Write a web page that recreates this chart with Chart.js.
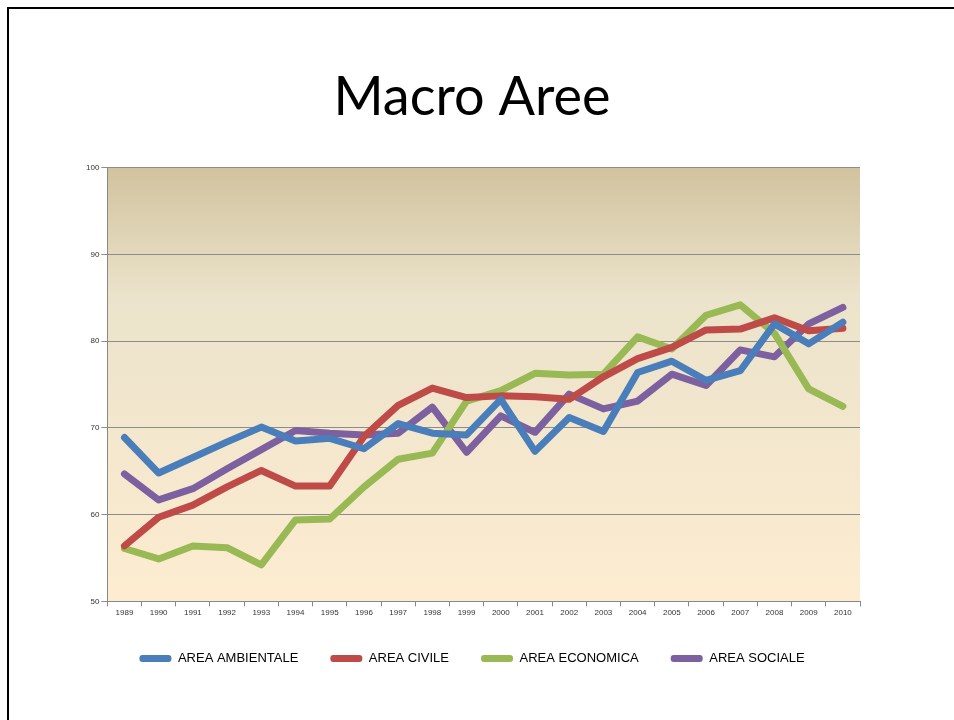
<!DOCTYPE html>
<html>
<head>
<meta charset="utf-8">
<script src="https://cdn.jsdelivr.net/npm/chart.js@4"></script>
<style>
    html, body { margin: 0; padding: 0; background: #fff; }
    #wrap { position: relative; width: 954px; height: 720px; }
    #frame { position: absolute; left: 7px; top: 7px; width: 960px; height: 720px;
             border-top: 2px solid #000; border-left: 2px solid #000; }
    canvas { position: absolute; left: 0; top: 0; }
</style>
</head>
<body>
<div id="wrap">
    <div id="frame"></div>
    <canvas id="chart" width="954" height="720"></canvas>
</div>
<script>
// Dati
const anni = ['1989', '1990', '1991', '1992', '1993', '1994', '1995', '1996', '1997', '1998', '1999',
              '2000', '2001', '2002', '2003', '2004', '2005', '2006', '2007', '2008', '2009', '2010'];
const ambientale = [68.9, 64.8, 66.6, 68.4, 70.1, 68.5, 68.8, 67.6, 70.5, 69.4, 69.2,
                    73.3, 67.3, 71.2, 69.6, 76.4, 77.7, 75.5, 76.6, 82.0, 79.7, 82.2];
const civile = [56.4, 59.7, 61.1, 63.2, 65.1, 63.3, 63.3, 69.0, 72.6, 74.6, 73.5,
                73.7, 73.6, 73.3, 75.9, 78.0, 79.3, 81.3, 81.4, 82.7, 81.2, 81.5];
const economica = [56.1, 54.9, 56.4, 56.2, 54.2, 59.4, 59.5, 63.2, 66.4, 67.1, 73.1,
                   74.3, 76.3, 76.1, 76.2, 80.5, 79.1, 83.0, 84.2, 80.9, 74.5, 72.5];
const sociale = [64.7, 61.7, 63.0, 65.3, 67.5, 69.7, 69.4, 69.2, 69.4, 72.4, 67.2,
                 71.4, 69.5, 73.9, 72.2, 73.1, 76.2, 74.9, 79.0, 78.2, 82.0, 83.9];
const yTicks = [50, 60, 70, 80, 90, 100];

// Sfondo sfumato dell'area del grafico
const plotBackground = {
    id: 'plotBackground',
    beforeDraw(chart) {
        const { ctx, chartArea: a } = chart;
        const g = ctx.createLinearGradient(0, a.top, 0, a.bottom);
        g.addColorStop(0, '#d2c39f');
        g.addColorStop(0.3, '#ebe3cb');
        g.addColorStop(1, '#fdecd0');
        ctx.save();
        ctx.fillStyle = g;
        ctx.fillRect(a.left, a.top, a.right - a.left, a.bottom - a.top);
        ctx.restore();
    }
};

function serie(label, data, color) {
    return {
        label: label,
        data: data,
        borderColor: color,
        backgroundColor: color,
        borderWidth: 7,
        tension: 0,
        pointRadius: 0,
        borderJoinStyle: 'round',
        borderCapStyle: 'round'
    };
}

const ctx = document.getElementById('chart').getContext('2d');
new Chart(ctx, {
    type: 'line',
    data: {
        labels: anni,
        datasets: [
            serie('AREA AMBIENTALE', ambientale, '#4a7ebb'),
            serie('AREA CIVILE', civile, '#be4b48'),
            serie('AREA ECONOMICA', economica, '#98b954'),
            serie('AREA SOCIALE', sociale, '#7d60a0')
        ]
    },
    options: {
        responsive: false,
        animation: false,
        layout: { padding: { top: 10, left: 84, right: 94, bottom: 45 } },
        scales: {
            x: {
                offset: true,
                grid: { offset: true, drawOnChartArea: false, color: '#888', tickLength: 5 },
                border: { color: '#888' },
                ticks: { color: '#333', font: { family: 'Liberation Sans', size: 8 }, maxRotation: 0, autoSkip: false, padding: 2 }
            },
            y: {
                min: 50,
                max: 100,
                afterBuildTicks(axis) { axis.ticks = yTicks.map(v => ({ value: v })); },
                grid: { color: '#8c8c8c', tickLength: 6 },
                border: { color: '#888' },
                ticks: { color: '#333', font: { family: 'Liberation Sans', size: 8 }, padding: 2 }
            }
        },
        plugins: {
            title: {
                display: true,
                text: 'Macro Aree',
                color: '#000',
                font: { family: 'Lato', size: 54, weight: 'normal' },
                padding: { top: 55, bottom: 38 }
            },
            legend: {
                position: 'bottom',
                labels: {
                    color: '#000',
                    font: { family: 'Liberation Sans', size: 13 },
                    boxWidth: 32,
                    boxHeight: 7,
                    useBorderRadius: true,
                    borderRadius: 3,
                    padding: 32,
                    generateLabels(chart) {
                        const items = Chart.defaults.plugins.legend.labels.generateLabels(chart);
                        items.forEach(it => { it.lineWidth = 0; });
                        return items;
                    }
                }
            },
            tooltip: { enabled: false }
        }
    },
    plugins: [plotBackground]
});
</script>
</body>
</html>
